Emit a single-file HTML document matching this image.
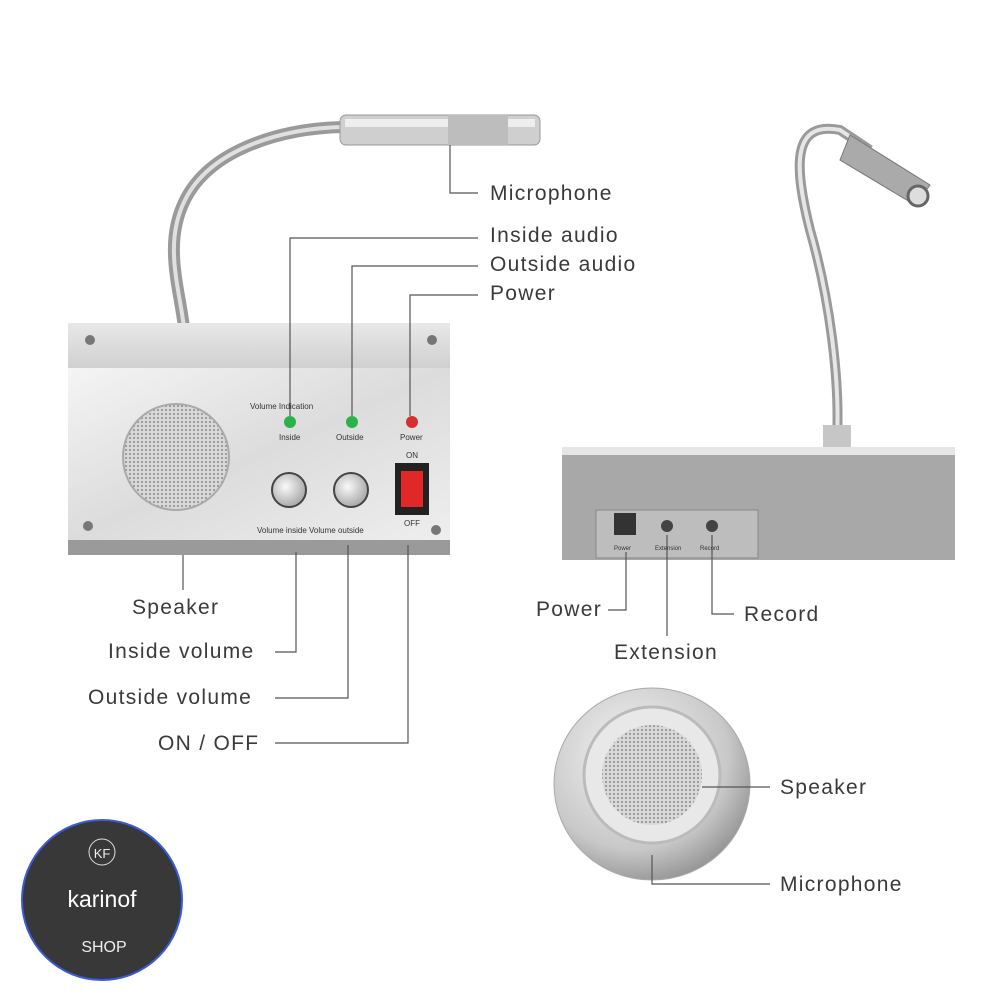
<!DOCTYPE html>
<html><head><meta charset="utf-8"><style>
body{margin:0;background:#fff;}
svg{display:block;font-family:"Liberation Sans",sans-serif;}
.l{font-size:21px;fill:#3a3a3a;letter-spacing:1.3px}
.ln{stroke:#555;stroke-width:1.2;fill:none}
.s{font-size:8px;fill:#333}
</style></head><body>
<svg width="1000" height="1000" viewBox="0 0 1000 1000">
<defs>
<linearGradient id="alu" x1="0" y1="0" x2="1" y2="1"><stop offset="0" stop-color="#f4f4f4"/><stop offset="0.5" stop-color="#dcdcdc"/><stop offset="1" stop-color="#eeeeee"/></linearGradient>
<linearGradient id="top" x1="0" y1="0" x2="0" y2="1"><stop offset="0" stop-color="#e8e8e8"/><stop offset="1" stop-color="#cfcfcf"/></linearGradient>
<pattern id="mesh" width="4" height="4" patternUnits="userSpaceOnUse"><rect width="4" height="4" fill="#d8d8d8"/><circle cx="2" cy="2" r="1" fill="#8a8a8a"/></pattern>
<radialGradient id="rs" cx="0.4" cy="0.35" r="0.7"><stop offset="0" stop-color="#f5f5f5"/><stop offset="0.7" stop-color="#c8c8c8"/><stop offset="1" stop-color="#909090"/></radialGradient>
<radialGradient id="kn" cx="0.4" cy="0.4" r="0.6"><stop offset="0" stop-color="#fafafa"/><stop offset="1" stop-color="#aaa"/></radialGradient>
</defs>
<!-- left gooseneck -->
<path d="M185 345 C185 300 160 250 185 200 C210 150 280 128 345 127" stroke="#9a9a9a" stroke-width="12" fill="none"/>
<path d="M185 345 C185 300 160 250 185 200 C210 150 280 128 345 127" stroke="#e0e0e0" stroke-width="4" fill="none"/>
<rect x="340" y="115" width="200" height="30" rx="6" fill="#cfcfcf" stroke="#999"/>
<rect x="345" y="119" width="190" height="8" fill="#eee"/>
<rect x="448" y="115" width="60" height="30" fill="#bdbdbd"/>
<rect x="165" y="325" width="38" height="30" rx="6" fill="#bbb"/>
<!-- left box -->
<polygon points="68,323 450,323 450,370 68,370" fill="url(#top)"/>
<rect x="68" y="368" width="382" height="172" fill="url(#alu)"/>
<rect x="68" y="540" width="382" height="15" fill="#9a9a9a"/>
<circle cx="90" cy="340" r="5" fill="#777"/><circle cx="432" cy="340" r="5" fill="#777"/>
<circle cx="88" cy="526" r="5" fill="#777"/><circle cx="436" cy="530" r="5" fill="#777"/>
<circle cx="176" cy="457" r="53" fill="url(#mesh)" stroke="#aaa" stroke-width="2"/>
<text x="250" y="409" class="s">Volume Indication</text>
<circle cx="290" cy="422" r="6" fill="#2bb24a"/><text x="279" y="440" class="s">Inside</text>
<circle cx="352" cy="422" r="6" fill="#2bb24a"/><text x="336" y="440" class="s">Outside</text>
<circle cx="412" cy="422" r="6" fill="#d43030"/><text x="400" y="440" class="s">Power</text>
<circle cx="289" cy="490" r="17" fill="url(#kn)" stroke="#444" stroke-width="2"/>
<circle cx="351" cy="490" r="17" fill="url(#kn)" stroke="#444" stroke-width="2"/>
<text x="257" y="533" class="s">Volume inside  Volume outside</text>
<text x="406" y="458" class="s">ON</text><text x="404" y="526" class="s">OFF</text>
<rect x="395" y="463" width="34" height="52" fill="#222"/><rect x="401" y="471" width="22" height="36" fill="#e02828"/>
<!-- right device -->
<path d="M837 440 C840 380 830 300 810 230 C795 170 790 120 840 130 L870 150" stroke="#9a9a9a" stroke-width="10" fill="none"/>
<path d="M837 440 C840 380 830 300 810 230 C795 170 790 120 840 130 L870 150" stroke="#e6e6e6" stroke-width="4" fill="none"/>
<polygon points="850,135 930,185 915,205 840,160" fill="#aaa" stroke="#777"/>
<circle cx="918" cy="196" r="10" fill="#ddd" stroke="#666" stroke-width="3"/>
<rect x="823" y="425" width="28" height="22" fill="#c6c6c6"/>
<rect x="562" y="447" width="393" height="10" fill="#e6e6e6"/>
<rect x="562" y="455" width="393" height="105" fill="#a8a8a8"/>
<rect x="596" y="510" width="162" height="48" fill="#bdbdbd" stroke="#888"/>
<rect x="614" y="513" width="22" height="22" fill="#333"/><circle cx="667" cy="526" r="6" fill="#444"/><circle cx="712" cy="526" r="6" fill="#444"/>
<text x="614" y="550" class="s" style="font-size:6px">Power</text><text x="655" y="550" class="s" style="font-size:6px">Extension</text><text x="700" y="550" class="s" style="font-size:6px">Record</text>
<!-- round speaker -->
<ellipse cx="652" cy="784" rx="98" ry="96" fill="url(#rs)" stroke="#aaa"/>
<circle cx="652" cy="775" r="68" fill="#e8e8e8" stroke="#bbb" stroke-width="3"/>
<circle cx="652" cy="775" r="50" fill="url(#mesh)"/>
<!-- lines & labels -->
<g class="ln">
<polyline points="450,145 450,193 478,193"/>
<polyline points="290,416 290,238 478,238"/>
<polyline points="352,416 352,266 478,266"/>
<polyline points="410,416 410,295 478,295"/>
<line x1="183" y1="555" x2="183" y2="590"/>
<polyline points="275,652 296,652 296,552"/>
<polyline points="275,698 348,698 348,545"/>
<polyline points="275,743 408,743 408,545"/>
<polyline points="608,610 626,610 626,552"/>
<line x1="667" y1="535" x2="667" y2="636"/>
<polyline points="734,614 712,614 712,535"/>
<line x1="702" y1="787" x2="770" y2="787"/>
<polyline points="652,855 652,884 770,884"/>
</g>
<text x="490" y="200" class="l">Microphone</text>
<text x="490" y="242" class="l">Inside audio</text>
<text x="490" y="271" class="l">Outside audio</text>
<text x="490" y="300" class="l">Power</text>
<text x="132" y="614" class="l">Speaker</text>
<text x="108" y="658" class="l">Inside volume</text>
<text x="88" y="704" class="l">Outside volume</text>
<text x="158" y="750" class="l">ON / OFF</text>
<text x="536" y="616" class="l">Power</text>
<text x="614" y="659" class="l">Extension</text>
<text x="744" y="621" class="l">Record</text>
<text x="780" y="794" class="l">Speaker</text>
<text x="780" y="891" class="l">Microphone</text>
<!-- logo -->
<circle cx="102" cy="900" r="80" fill="#383838" stroke="#3b5bdb" stroke-width="2"/>
<circle cx="102" cy="852" r="13" fill="none" stroke="#ddd"/>
<text x="102" y="858" fill="#eee" font-size="13" text-anchor="middle">KF</text>
<text x="102" y="907" fill="#fff" font-size="23" text-anchor="middle">karinof</text>
<text x="104" y="952" fill="#eee" font-size="16" text-anchor="middle">SHOP</text>
</svg>
</body></html>
